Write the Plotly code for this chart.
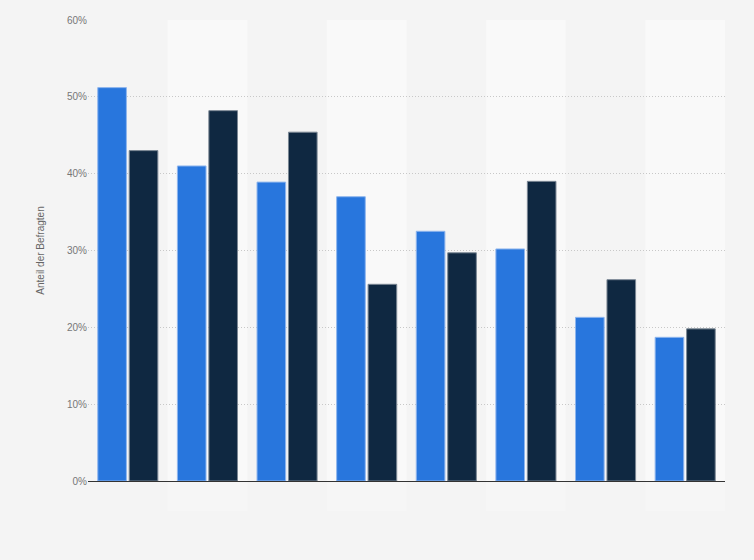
import plotly.graph_objects as go

# Categories (no labels shown on the reference axis)
categories = ['K1', 'K2', 'K3', 'K4', 'K5', 'K6', 'K7', 'K8']

# Share of respondents in percent
series_a = [51.2, 41.0, 38.9, 37.0, 32.5, 30.2, 21.3, 18.7]
series_b = [43.0, 48.2, 45.4, 25.6, 29.7, 39.0, 26.2, 19.8]

fig = go.Figure()
fig.add_trace(go.Bar(
    x=categories, y=series_a, name='Reihe 1',
    marker=dict(color='#2876dd', line=dict(color='#8fb6ee', width=1)),
))
fig.add_trace(go.Bar(
    x=categories, y=series_b, name='Reihe 2',
    marker=dict(color='#0f2841', line=dict(color='#7b8794', width=1)),
))

# alternating column bands (faint continuation below the axis)
for i in range(len(categories)):
    if i % 2 == 1:
        fig.add_shape(type='rect', xref='x', yref='paper',
                      x0=i - 0.5, x1=i + 0.5, y0=0, y1=1,
                      fillcolor='#f9f9f9', line_width=0, layer='below')
        fig.add_shape(type='rect', xref='x', yref='paper',
                      x0=i - 0.5, x1=i + 0.5, y0=-0.065, y1=0,
                      fillcolor='#f6f6f6', line_width=0, layer='below')

fig.update_layout(
    width=754, height=560,
    margin=dict(l=88, r=29, t=20, b=79),
    paper_bgcolor='#f4f4f4',
    plot_bgcolor='#f4f4f4',
    barmode='group',
    bargap=0.21,
    bargroupgap=0.09,
    showlegend=False,
    font=dict(family='Arial, Liberation Sans, sans-serif', size=10, color='#666666'),
)
fig.update_xaxes(
    showticklabels=False, showgrid=False, zeroline=False,
    showline=True, linecolor='#333333', linewidth=1.2,
    range=[-0.5, len(categories) - 0.5],
)
fig.update_yaxes(
    range=[0, 60], dtick=10, ticksuffix='%',
    showgrid=True, gridcolor='#c8c8c8', griddash='1px,2px', gridwidth=1,
    zeroline=False, showline=False,
    title=dict(text='Anteil der Befragten', font=dict(size=10, color='#666666'), standoff=20),
    tickfont=dict(size=10, color='#777777'),
)

fig.write_html("out.html", config={'displayModeBar': False},
               post_script="document.body.style.margin='0';")
